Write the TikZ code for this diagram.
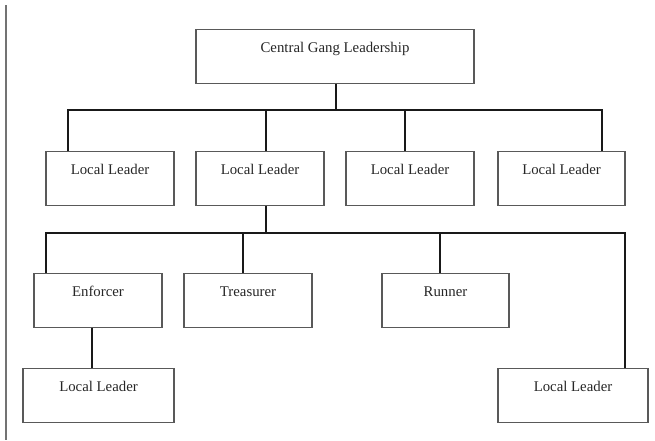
\documentclass[tikz,border=0pt]{standalone}
\usepackage{fontspec}
\setmainfont{Liberation Serif}
\begin{document}
\begin{tikzpicture}[x=1pt,y=-1pt,
  box/.style={draw=black!65,line width=1.1pt,rectangle,inner xsep=0pt,inner ysep=0pt,
    text height=22.5pt,text depth=31pt,anchor=north,font=\fontsize{14.8}{17}\selectfont,text=black!85},
  conn/.style={draw=black!90,line width=1.7pt}]
\useasboundingbox (0,0) rectangle (655,440);
\draw[black!55,line width=1.2pt] (6,5) -- (6,440);
% nodes
\node[box,minimum width=278pt] (central) at (335,29) {Central Gang Leadership};
\node[box,minimum width=128pt] (b1) at (110,151) {Local Leader};
\node[box,minimum width=128pt] (b2) at (260,151) {Local Leader};
\node[box,minimum width=128pt] (b3) at (410,151) {Local Leader};
\node[box,minimum width=127pt] (b4) at (561.5,151) {Local Leader};
\node[box,minimum width=128pt] (enf) at (98,273) {Enforcer};
\node[box,minimum width=128pt] (tre) at (248,273) {Treasurer};
\node[box,minimum width=127pt] (run) at (445.5,273) {Runner};
\node[box,minimum width=151pt] (ll) at (98.5,368) {Local Leader};
\node[box,minimum width=150pt] (lr) at (573,368) {Local Leader};
% junction coordinates
\coordinate (c0) at (336,110);
\coordinate (j1) at (68,110);
\coordinate (j2) at (266,110);
\coordinate (j3) at (405,110);
\coordinate (j4) at (602,110);
\coordinate (d0) at (266,233);
\coordinate (k1) at (46,233);
\coordinate (k2) at (243,233);
\coordinate (k3) at (440,233);
\coordinate (k4) at (625,233);
\coordinate (e0) at (92,327);
% connectors
\draw[conn] (c0 |- central.south) -- (c0);
\draw[conn] (j1 |- b1.north) -- (j1) -- (j4) -- (j4 |- b4.north);
\draw[conn] (j2) -- (j2 |- b2.north);
\draw[conn] (j3) -- (j3 |- b3.north);
\draw[conn] (d0 |- b2.south) -- (d0);
\draw[conn] (k1 |- enf.north) -- (k1) -- (k4) -- (k4 |- lr.north);
\draw[conn] (k2) -- (k2 |- tre.north);
\draw[conn] (k3) -- (k3 |- run.north);
\draw[conn] (e0 |- enf.south) -- (e0 |- ll.north);
\end{tikzpicture}
\end{document}
